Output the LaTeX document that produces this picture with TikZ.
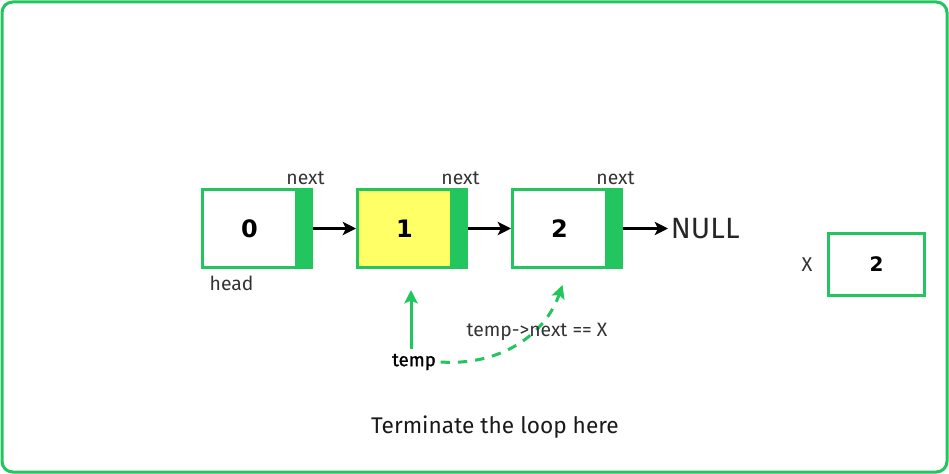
\documentclass[tikz,border=0pt]{standalone}
\usepackage{fontspec}
\setmainfont{Fira Sans}
\newfontfamily\numfont{DejaVu Sans}
\newfontfamily\semifont{Fira Sans}[FakeBold=1.3]
\usepackage{tikz}
\usetikzlibrary{arrows.meta}
\usetikzlibrary{calc}
\definecolor{lgreen}{RGB}{34,197,94}
\definecolor{lyellow}{RGB}{255,255,102}
\definecolor{dgrey}{RGB}{51,51,51}
\tikzset{databox/.style={draw=lgreen, line width=2.25pt, minimum width=70.5pt, minimum height=58.5pt, font=\numfont\bfseries\fontsize{18}{20}\selectfont}}
\tikzset{ptrbox/.style={draw=lgreen, fill=lgreen, line width=2.25pt, minimum width=9pt, minimum height=58.5pt, inner sep=0pt}}
\tikzset{lbl/.style={text=dgrey, font=\fontsize{14.5}{16}\selectfont}}
\tikzset{link/.style={black, line width=2.25pt, -{Stealth[length=10pt, width=10pt, inset=2.5pt]}}}
\tikzset{garrow/.style={lgreen, line width=2.25pt, -{Stealth[length=10pt, width=10pt, inset=2pt]}}}

\begin{document}
\begin{tikzpicture}[x=.75pt, y=-.75pt]
\useasboundingbox (0,0) rectangle (949,474);
\draw[lgreen, line width=2.25pt, rounded corners=8pt] (2,2) rectangle (947,472);
\foreach \i/\xx/\col in {0/249.5/white,1/404.5/lyellow,2/559.5/white} {
  \node[databox, fill=\col] (d\i) at (\xx,228.5) {\i};
  \node[ptrbox, anchor=west] (p\i) at (d\i.east) {};
  \node[lbl, above, inner sep=2pt] (n\i) at (p\i.north) {next};
}
\draw[link] (p0.east) -- (d1.west);
\draw[link] (p1.east) -- (d2.west);
\node[anchor=west, inner sep=2pt, text=black!85, font=\fontsize{22}{24}\selectfont] (null) at (668,228.5) {NULL};
\draw[link] (p2.east) -- (null.west);
\node[lbl, anchor=north west] (head) at ($(d0.south west)+(4,2)$) {head};
% value to look for
\node[databox, font=\numfont\bfseries\fontsize{15}{17}\selectfont, minimum width=72pt, minimum height=46.5pt] (xv) at (876.5,264.5) {2};
\node[lbl, anchor=east, font=\fontsize{15}{17}\selectfont] (xl) at ($(xv.west)+(-10,0)$) {X};
% temp pointer
\node[font=\semifont\fontsize{14}{16}\selectfont] (temp) at (414,362) {temp};
\coordinate (t1) at ($(d1.south)+(6.5,21)$);
\coordinate (t2) at ($(d2.south)+(3,16)$);
\draw[garrow] (temp.north -| t1) -- (t1);
\draw[garrow, dash pattern=on 7pt off 6pt] (temp.east) .. controls (500,366) and (545,335) .. (t2);
\node[lbl] (cond) at (537,332) {temp->next == X};
\node[text=black!90, font=\fontsize{17}{20}\selectfont] (msg) at (495,427) {Terminate the loop here};
\end{tikzpicture}
\end{document}
